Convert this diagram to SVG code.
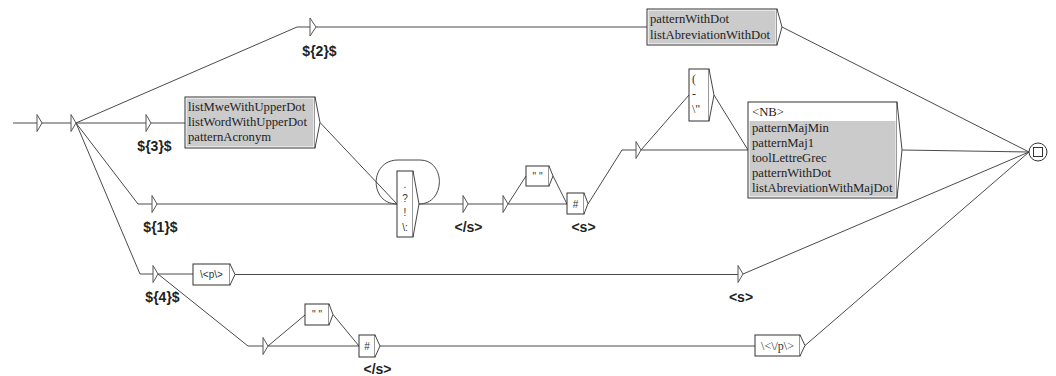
<svg xmlns="http://www.w3.org/2000/svg" width="1056" height="376" viewBox="0 0 1056 376">
<style>
.ln{stroke:#4a4a4a;fill:none;stroke-width:1}
.bx{fill:#fff;stroke:#333;stroke-width:1}
.gb{fill:#cbcbcb;stroke:none}
.ar{fill:#fff;stroke:#444;stroke-width:1}
.tri{fill:#fff;stroke:#555;stroke-width:1}
.lbl{font-family:"Liberation Sans",Arial,sans-serif;font-weight:bold;font-size:14px;fill:#222}
.st{font-family:"Liberation Serif","Times New Roman",serif;font-size:12.7px;fill:#222}
.sm{font-family:"Liberation Sans",Arial,sans-serif;font-size:10px;fill:#333}
.sf{font-family:"Liberation Serif","Times New Roman",serif;font-size:12px;fill:#333}
</style>
<rect width="1056" height="376" fill="#fff"/>
<g id="connectors">
<path class="ln" d="M13,123H37"/>
<path class="ln" d="M42,123H71"/>
<path class="ln" d="M76,123L297,27H310"/>
<path class="ln" d="M316,27H647"/>
<path class="ln" d="M782,27L1029,152"/>
<path class="ln" d="M76,123H146"/>
<path class="ln" d="M151,123H185"/>
<path class="ln" d="M320,122.5L397,204"/>
<path class="ln" d="M76,123L138,204H152"/>
<path class="ln" d="M157,204H397"/>
<path class="ln" d="M419,204C446,204 446,160 420,160H398C369,160 369,204 397,204"/>
<path class="ln" d="M419,204H463"/>
<path class="ln" d="M468,204H503"/>
<path class="ln" d="M508,204L526,176"/>
<path class="ln" d="M508,204H567"/>
<path class="ln" d="M553,176L567,204"/>
<path class="ln" d="M588,204L622,150H636"/>
<path class="ln" d="M641,150L689,95"/>
<path class="ln" d="M641,150H748"/>
<path class="ln" d="M714,95L748,150"/>
<path class="ln" d="M902,150L1029,152"/>
<path class="ln" d="M76,123L140,274H153"/>
<path class="ln" d="M158,274H193"/>
<path class="ln" d="M235,274.5H738"/>
<path class="ln" d="M743,274L1029,152"/>
<path class="ln" d="M158,274L248,346H263"/>
<path class="ln" d="M268,346L305,315"/>
<path class="ln" d="M268,346H359"/>
<path class="ln" d="M333,314.5L359,346"/>
<path class="ln" d="M380,346H755"/>
<path class="ln" d="M805,345.5L1029,152"/>
</g>
<g id="init1"><polygon class="tri" points="37,114.5 42,123 37,131.5"/></g>
<g id="init2"><polygon class="tri" points="71,114.5 76,123 71,131.5"/></g>
<g id="n_v2"><polygon class="tri" points="310,18 316,27 310,36"/><text class="lbl" x="319.5" y="56" text-anchor="middle">${2}$</text></g>
<g id="n_v3"><polygon class="tri" points="146,114.5 151,123 146,131.5"/><text class="lbl" x="154.5" y="151" text-anchor="middle">${3}$</text></g>
<g id="n_v1"><polygon class="tri" points="152,195.5 157,204 152,212.5"/><text class="lbl" x="160.5" y="232" text-anchor="middle">${1}$</text></g>
<g id="n_v4"><polygon class="tri" points="153,265.5 158,274 153,282.5"/><text class="lbl" x="162.5" y="302" text-anchor="middle">${4}$</text></g>
<g id="n_pwd">
<rect class="bx" x="647" y="9" width="130" height="36"/>
<rect class="gb" x="648.5" y="10.5" width="127" height="33"/>
<path class="ar" d="M777,9L782,27L777,45"/>
<text class="st" x="650" y="23">patternWithDot</text>
<text class="st" x="650" y="39">listAbreviationWithDot</text>
</g>
<g id="n_mwe">
<rect class="bx" x="185" y="97" width="130" height="51"/>
<rect class="gb" x="186.5" y="98.5" width="127" height="48"/>
<path class="ar" d="M315,97L320,122.5L315,148"/>
<text class="st" x="188" y="111">listMweWithUpperDot</text>
<text class="st" x="188" y="126">listWordWithUpperDot</text>
<text class="st" x="188" y="141">patternAcronym</text>
</g>
<g id="n_punct">
<rect class="bx" x="397" y="171" width="16" height="66"/>
<path class="ar" d="M413,171L419,204L413,237"/>
<text class="sm" x="405" y="188" text-anchor="middle">.</text>
<text class="sm" x="405" y="202" text-anchor="middle">?</text>
<text class="sm" x="405" y="216" text-anchor="middle">!</text>
<text class="sm" x="405" y="231" text-anchor="middle">\:</text>
</g>
<g id="n_es1"><polygon class="tri" points="463,195.5 468,204 463,212.5"/><text class="lbl" x="468.5" y="232" text-anchor="middle">&lt;/s&gt;</text></g>
<g id="n_e1"><polygon class="tri" points="503,195.5 508,204 503,212.5"/></g>
<g id="n_sp1">
<rect class="bx" x="526" y="166" width="23" height="20"/>
<path class="ar" d="M549,166L553,176L549,186"/>
<text class="sm" x="537.5" y="180" text-anchor="middle" font-size="9">" "</text>
</g>
<g id="n_hash1">
<rect class="bx" x="567" y="193" width="17" height="21"/>
<path class="ar" d="M584,193L588,203.5L584,214"/>
<text class="sm" x="575.5" y="208" text-anchor="middle">#</text>
<text class="lbl" x="583.5" y="232" text-anchor="middle">&lt;s&gt;</text>
</g>
<g id="n_e2"><polygon class="tri" points="636,141.5 641,150 636,158.5"/></g>
<g id="n_paren">
<rect class="bx" x="689" y="69" width="20" height="52"/>
<path class="ar" d="M709,69L714,95L709,121"/>
<text class="sf" x="692" y="83">(</text>
<text class="sf" x="692" y="98">-</text>
<text class="sf" x="692" y="113">\"</text>
</g>
<g id="n_nb">
<rect class="bx" x="748" y="102" width="149" height="96"/>
<rect class="gb" x="749.5" y="121" width="146" height="75.5"/>
<path class="ar" d="M897,102L902,150L897,198"/>
<text class="st" x="752" y="116">&lt;NB&gt;</text>
<text class="st" x="752" y="132">patternMajMin</text>
<text class="st" x="752" y="147">patternMaj1</text>
<text class="st" x="752" y="162">toolLettreGrec</text>
<text class="st" x="752" y="177">patternWithDot</text>
<text class="st" x="752" y="192">listAbreviationWithMajDot</text>
</g>
<g id="n_p">
<rect class="bx" x="193" y="264" width="37" height="21"/>
<path class="ar" d="M230,264L235,274.5L230,285"/>
<text class="sm" x="211.5" y="278" text-anchor="middle" font-size="10.5">\&lt;p\&gt;</text>
</g>
<g id="n_es2"><polygon class="tri" points="738,265.5 743,274 738,282.5"/><text class="lbl" x="741" y="302" text-anchor="middle">&lt;s&gt;</text></g>
<g id="n_e3"><polygon class="tri" points="263,337.5 268,346 263,354.5"/></g>
<g id="n_sp2">
<rect class="bx" x="305" y="304" width="24" height="21"/>
<path class="ar" d="M329,304L333,314.5L329,325"/>
<text class="sm" x="317" y="318" text-anchor="middle" font-size="9">" "</text>
</g>
<g id="n_hash2">
<rect class="bx" x="359" y="335" width="16" height="22"/>
<path class="ar" d="M375,335L380,346L375,357"/>
<text class="sm" x="367" y="350" text-anchor="middle">#</text>
<text class="lbl" x="377.5" y="374" text-anchor="middle">&lt;/s&gt;</text>
</g>
<g id="n_endp">
<rect class="bx" x="755" y="335" width="45" height="21"/>
<path class="ar" d="M800,335L805,345.5L800,356"/>
<text class="sf" x="777.5" y="350" text-anchor="middle">\&lt;\/p\&gt;</text>
</g>
<g id="final">
<circle cx="1038" cy="152" r="9" fill="#fff" stroke="#333"/>
<rect x="1033.5" y="147.5" width="9" height="9" fill="#fff" stroke="#333"/>
</g>
</svg>
